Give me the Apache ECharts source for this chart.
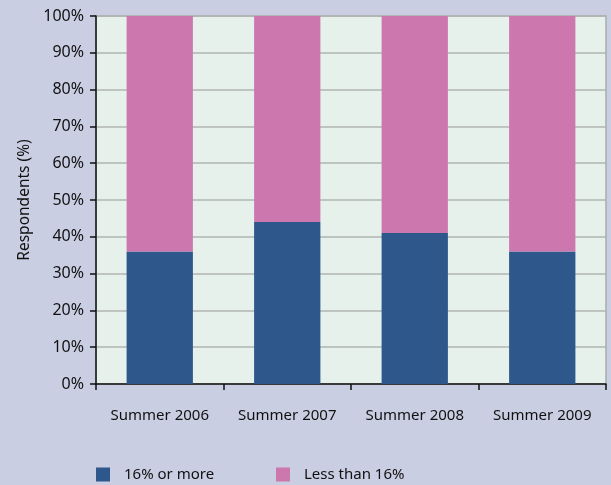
<!DOCTYPE html>
<html>
<head>
<meta charset="utf-8">
<script src="https://cdn.jsdelivr.net/npm/echarts@6/dist/echarts.min.js"></script>
<style>
  html, body { margin: 0; padding: 0; background: #c9cee2; }
  #chart { width: 611px; height: 485px; }
</style>
</head>
<body>
<div id="chart"></div>
<script>
// Share of respondents by summer, split into two groups
const categories = ['Summer 2006', 'Summer 2007', 'Summer 2008', 'Summer 2009'];
const sixteenOrMore = [36, 44, 41, 36];
const lessThanSixteen = [64, 56, 59, 64];
const yTicks = { min: 0, max: 100, interval: 10 };

const FONT = '"Noto Sans", "Open Sans", sans-serif';
const BLUE = '#2e578c';
const PINK = '#cc78af';

const legendText = { fontFamily: FONT, fontSize: 15, color: '#111', padding: [0, 0, 0, 9] };

const chart = echarts.init(document.getElementById('chart'));
chart.setOption({
  backgroundColor: '#c9cee2',
  animation: false,
  textStyle: { fontFamily: FONT, color: '#111' },
  grid: {
    left: 96, right: 5, top: 16, bottom: 101,
    show: true,
    backgroundColor: '#e7f1eb',
    borderColor: '#a9acab',
    borderWidth: 1.5
  },
  legend: [
    {
      data: ['16% or more'],
      left: 96, top: 467, padding: 0,
      icon: 'rect', itemWidth: 14, itemHeight: 14,
      textStyle: legendText
    },
    {
      data: ['Less than 16%'],
      left: 276, top: 467, padding: 0,
      icon: 'rect', itemWidth: 14, itemHeight: 14,
      textStyle: legendText
    }
  ],
  xAxis: {
    type: 'category',
    data: categories,
    boundaryGap: true,
    axisLine: { lineStyle: { color: '#111', width: 1.5 } },
    axisTick: { show: true, length: 6, interval: 0, lineStyle: { color: '#111', width: 1.5 } },
    axisLabel: { fontFamily: FONT, fontSize: 15, color: '#111', margin: 24, interval: 0 }
  },
  yAxis: {
    type: 'value',
    min: yTicks.min, max: yTicks.max, interval: yTicks.interval,
    name: 'Respondents (%)',
    nameLocation: 'middle',
    nameGap: 63,
    nameTextStyle: { fontFamily: FONT, fontSize: 15.5, color: '#111' },
    axisLine: { show: true, lineStyle: { color: '#111', width: 1.5 } },
    axisTick: { show: true, length: 6, lineStyle: { color: '#111', width: 1.5 } },
    axisLabel: { fontFamily: FONT, fontSize: 16, color: '#111', margin: 12, formatter: '{value}%' },
    splitLine: { show: true, lineStyle: { color: '#b1b5b2', width: 1.5 } }
  },
  series: [
    {
      name: '16% or more',
      type: 'bar',
      stack: 'total',
      barWidth: '52%',
      itemStyle: { color: BLUE },
      data: sixteenOrMore
    },
    {
      name: 'Less than 16%',
      type: 'bar',
      stack: 'total',
      barWidth: '52%',
      itemStyle: { color: PINK },
      data: lessThanSixteen
    }
  ]
});
</script>
</body>
</html>
